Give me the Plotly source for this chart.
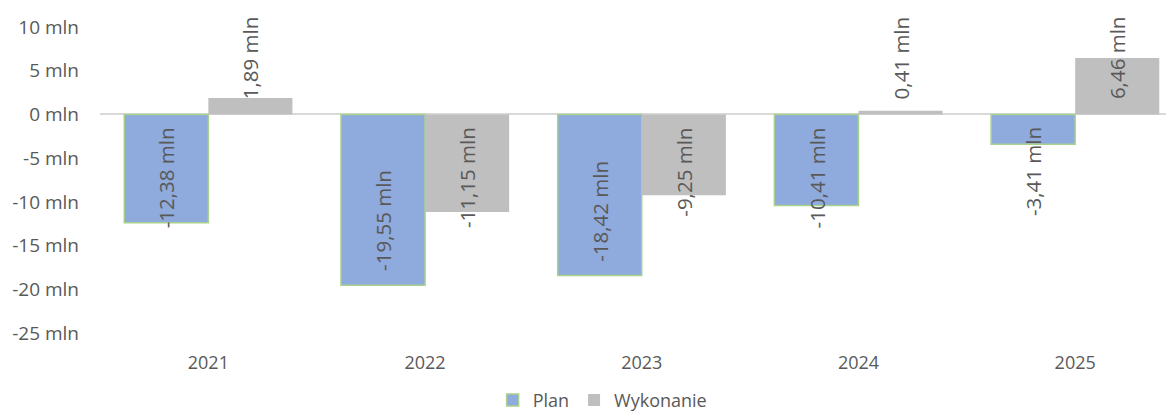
import plotly.graph_objects as go

years = ["2021", "2022", "2023", "2024", "2025"]
plan = [-12.38, -19.55, -18.42, -10.41, -3.41]
wykonanie = [1.89, -11.15, -9.25, 0.41, 6.46]
tick_vals = [10, 5, 0, -5, -10, -15, -20, -25]
tick_text = ["10 mln", "5 mln", "0 mln", "-5 mln", "-10 mln", "-15 mln", "-20 mln", "-25 mln"]

FONT = "Open Sans"
GREY = "#595959"

fig = go.Figure()
fig.add_trace(go.Bar(x=years, y=plan, name="Plan",
                     marker=dict(color="#8FAADC", line=dict(color="#A9D18E", width=1.5))))
fig.add_trace(go.Bar(x=years, y=wykonanie, name="Wykonanie",
                     marker=dict(color="#BFBFBF", line=dict(width=0))))


def label(v):
    return f"{v:.2f}".replace(".", ",") + " mln"


# Excel style labels, rotated; x given as category index
for vals, shift in ((plan, -42), (wykonanie, 42)):
    for i, v in enumerate(vals):
        if v >= 0:
            y, anchor, ys = 0, "bottom", 13
        elif v < -15:
            y, anchor, ys = v, "bottom", 12
        else:
            y, anchor, ys = 0, "top", -11
        fig.add_annotation(x=i, y=y, text=label(v), textangle=-90, showarrow=False,
                           xshift=shift, yshift=ys, yanchor=anchor, xanchor="center",
                           font=dict(family=FONT, size=20.5, color=GREY))

# page body has an 8px margin, so the figure is 8px smaller than the window
fig.update_layout(
    width=1166, height=409,
    margin=dict(l=92, r=0, t=19, b=84, autoexpand=False),
    paper_bgcolor="white", plot_bgcolor="white",
    barmode="group", bargap=0.224, bargroupgap=0,
    font=dict(family=FONT, size=18, color=GREY),
    showlegend=True,
    legend=dict(orientation="h", x=0.468, xanchor="center", y=-0.28, yanchor="bottom",
                font=dict(family=FONT, size=18, color=GREY), itemwidth=30),
)
fig.update_xaxes(type="category", range=[-0.5, 4.456], showgrid=False, showline=False, ticks="",
                 tickfont=dict(size=18, color=GREY), ticklabelstandoff=17)
fig.update_yaxes(range=[-25, 10], tickvals=tick_vals, ticktext=tick_text, showgrid=False,
                 zeroline=True, zerolinecolor="#D9D9D9", zerolinewidth=1.5,
                 ticks="", tickfont=dict(size=19, color=GREY), ticklabelstandoff=20)

fig.write_html("out.html")
